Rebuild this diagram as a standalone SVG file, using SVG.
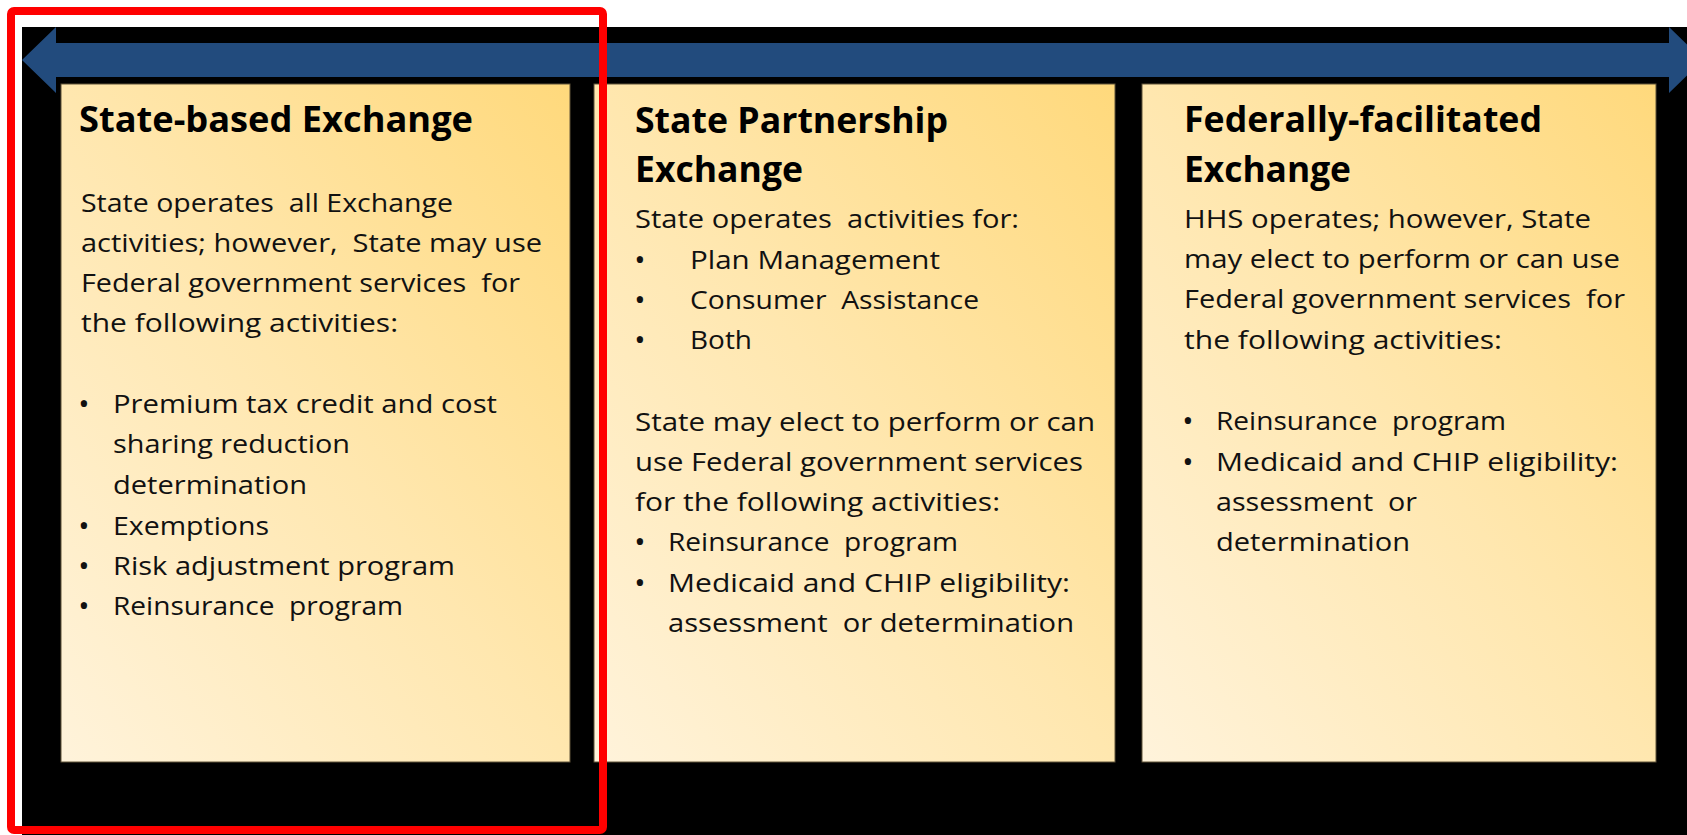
<svg xmlns="http://www.w3.org/2000/svg" width="1687" height="835" viewBox="0 0 1687 835">
  <defs>
    <linearGradient id="cardFill" x1="0" y1="1" x2="1" y2="0">
      <stop offset="0" stop-color="#FFF3DB"/>
      <stop offset="0.5" stop-color="#FFE7AF"/>
      <stop offset="1" stop-color="#FFD97C"/>
    </linearGradient>
  </defs>
  <style>
    .card { fill: url(#cardFill); stroke: #5e5238; stroke-width: 1; }
    .title { font-family: "Open Sans", "Noto Sans", sans-serif; font-weight: 700; font-size: 35px; fill: #000; }
    .body { font-family: "Open Sans", "Noto Sans", sans-serif; font-size: 26px; fill: #111; white-space: pre; }
    .bullet { font-family: "Open Sans", "Noto Sans", sans-serif; font-size: 30px; fill: #111; text-anchor: middle; }
    .span { fill: #224B7D; }
    .highlight { fill: none; stroke: #FF0000; stroke-width: 8; }
  </style>

  <!-- page background -->
  <rect x="0" y="0" width="1687" height="835" fill="#FFFFFF"/>
  <!-- black panel -->
  <rect x="22" y="27" width="1665" height="808" fill="#000000"/>

  <!-- double-headed spectrum arrow -->
  <g id="connectors">
    <polygon class="span" points="22,60 56,27 56,43 1669,43 1669,27 1703,60 1669,93 1669,77 56,77 56,93"/>
  </g>

  <!-- State-based Exchange -->
  <g id="state-based">
    <rect class="card" x="61" y="84" width="509" height="678"/>
    <text class="title" x="79" y="132" textLength="394" lengthAdjust="spacingAndGlyphs">State-based Exchange</text>
    <text class="body" x="81" y="212" textLength="372" lengthAdjust="spacingAndGlyphs">State operates  all Exchange</text>
    <text class="body" x="81" y="252" textLength="461" lengthAdjust="spacingAndGlyphs">activities; however,  State may use</text>
    <text class="body" x="81" y="292" textLength="439" lengthAdjust="spacingAndGlyphs">Federal government services  for</text>
    <text class="body" x="81" y="332" textLength="317" lengthAdjust="spacingAndGlyphs">the following activities:</text>
    <text class="bullet" x="84" y="414">•</text>
    <text class="body" x="113" y="413" textLength="384" lengthAdjust="spacingAndGlyphs">Premium tax credit and cost</text>
    <text class="body" x="113" y="453" textLength="237" lengthAdjust="spacingAndGlyphs">sharing reduction</text>
    <text class="body" x="113" y="494" textLength="194" lengthAdjust="spacingAndGlyphs">determination</text>
    <text class="bullet" x="84" y="536">•</text>
    <text class="body" x="113" y="535" textLength="156" lengthAdjust="spacingAndGlyphs">Exemptions</text>
    <text class="bullet" x="84" y="576">•</text>
    <text class="body" x="113" y="575" textLength="342" lengthAdjust="spacingAndGlyphs">Risk adjustment program</text>
    <text class="bullet" x="84" y="616">•</text>
    <text class="body" x="113" y="615" textLength="290" lengthAdjust="spacingAndGlyphs">Reinsurance  program</text>
  </g>

  <!-- State Partnership Exchange -->
  <g id="state-partnership">
    <rect class="card" x="594" y="84" width="521" height="678"/>
    <text class="title" x="635" y="133" textLength="313" lengthAdjust="spacingAndGlyphs">State Partnership</text>
    <text class="title" x="635" y="182" textLength="168" lengthAdjust="spacingAndGlyphs">Exchange</text>
    <text class="body" x="635" y="228" textLength="384" lengthAdjust="spacingAndGlyphs">State operates  activities for:</text>
    <text class="bullet" x="640" y="270">•</text>
    <text class="body" x="690" y="269" textLength="250" lengthAdjust="spacingAndGlyphs">Plan Management</text>
    <text class="bullet" x="640" y="310">•</text>
    <text class="body" x="690" y="309" textLength="289" lengthAdjust="spacingAndGlyphs">Consumer  Assistance</text>
    <text class="bullet" x="640" y="350">•</text>
    <text class="body" x="690" y="349" textLength="62" lengthAdjust="spacingAndGlyphs">Both</text>
    <text class="body" x="635" y="431" textLength="460" lengthAdjust="spacingAndGlyphs">State may elect to perform or can</text>
    <text class="body" x="635" y="471" textLength="448" lengthAdjust="spacingAndGlyphs">use Federal government services</text>
    <text class="body" x="635" y="511" textLength="365" lengthAdjust="spacingAndGlyphs">for the following activities:</text>
    <text class="bullet" x="640" y="552">•</text>
    <text class="body" x="668" y="551" textLength="290" lengthAdjust="spacingAndGlyphs">Reinsurance  program</text>
    <text class="bullet" x="640" y="593">•</text>
    <text class="body" x="668" y="592" textLength="402" lengthAdjust="spacingAndGlyphs">Medicaid and CHIP eligibility:</text>
    <text class="body" x="668" y="632" textLength="406" lengthAdjust="spacingAndGlyphs">assessment  or determination</text>
  </g>

  <!-- Federally-facilitated Exchange -->
  <g id="federally-facilitated">
    <rect class="card" x="1142" y="84" width="514" height="678"/>
    <text class="title" x="1184" y="132" textLength="358" lengthAdjust="spacingAndGlyphs">Federally-facilitated</text>
    <text class="title" x="1184" y="182" textLength="167" lengthAdjust="spacingAndGlyphs">Exchange</text>
    <text class="body" x="1184" y="228" textLength="407" lengthAdjust="spacingAndGlyphs">HHS operates; however, State</text>
    <text class="body" x="1184" y="268" textLength="436" lengthAdjust="spacingAndGlyphs">may elect to perform or can use</text>
    <text class="body" x="1184" y="308" textLength="441" lengthAdjust="spacingAndGlyphs">Federal government services  for</text>
    <text class="body" x="1184" y="349" textLength="318" lengthAdjust="spacingAndGlyphs">the following activities:</text>
    <text class="bullet" x="1188" y="431">•</text>
    <text class="body" x="1216" y="430" textLength="290" lengthAdjust="spacingAndGlyphs">Reinsurance  program</text>
    <text class="bullet" x="1188" y="472">•</text>
    <text class="body" x="1216" y="471" textLength="402" lengthAdjust="spacingAndGlyphs">Medicaid and CHIP eligibility:</text>
    <text class="body" x="1216" y="511" textLength="201" lengthAdjust="spacingAndGlyphs">assessment  or</text>
    <text class="body" x="1216" y="551" textLength="194" lengthAdjust="spacingAndGlyphs">determination</text>
  </g>

  <!-- red outline around the first column -->
  <rect class="highlight" x="11" y="11" width="592" height="819" rx="3"/>
</svg>
